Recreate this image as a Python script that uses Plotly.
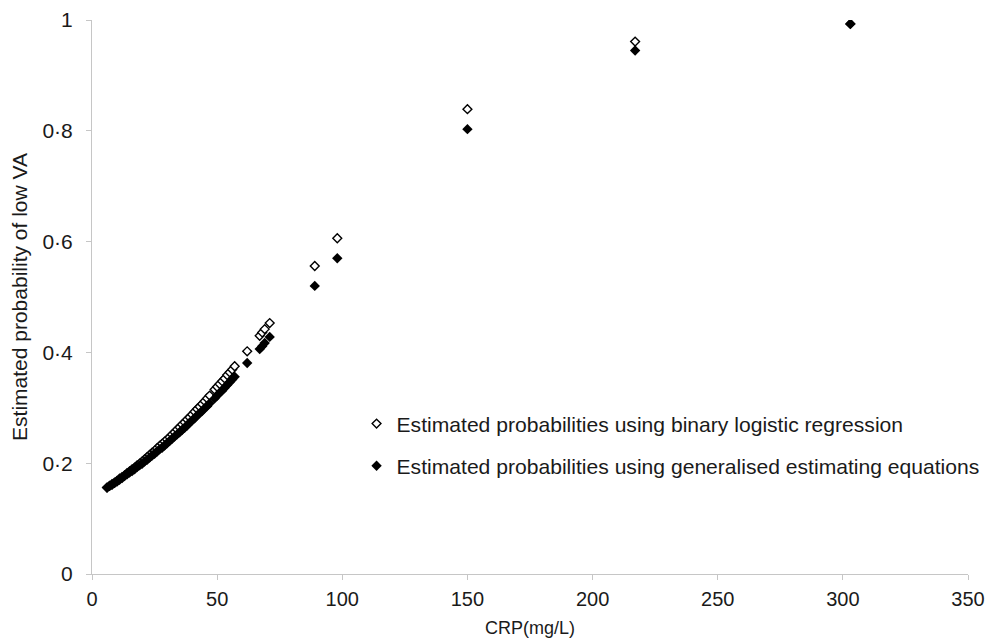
import plotly.graph_objects as go

# CRP values (mg/L)
crp = [6, 7, 8, 9, 10, 11, 12, 13, 14, 15, 16, 17, 18, 19, 20, 21, 22, 23, 24, 25,
       26, 27, 28, 29, 30, 31, 32, 33, 34, 35, 36, 37, 38, 39, 40, 41, 42, 43, 44, 45,
       46, 47, 49, 50, 51, 52, 53, 54, 55, 56, 57, 62, 67, 68, 69, 71, 89, 98, 150, 217, 303]

# Estimated probabilities, binary logistic regression (open diamonds)
p_logistic = [0.156, 0.159, 0.162, 0.165, 0.168, 0.172, 0.175, 0.178, 0.182, 0.185,
              0.189, 0.192, 0.196, 0.199, 0.203, 0.207, 0.211, 0.215, 0.219, 0.222,
              0.227, 0.231, 0.235, 0.239, 0.243, 0.247, 0.252, 0.256, 0.261, 0.265,
              0.270, 0.274, 0.279, 0.283, 0.288, 0.293, 0.298, 0.302, 0.307, 0.312,
              0.317, 0.322, 0.333, 0.338, 0.343, 0.348, 0.353, 0.359, 0.364, 0.369,
              0.375, 0.402, 0.430, 0.436, 0.442, 0.453, 0.556, 0.606, 0.839, 0.961, 0.993]

# Estimated probabilities, generalised estimating equations (filled diamonds)
p_gee = [0.156, 0.159, 0.161, 0.164, 0.167, 0.170, 0.173, 0.177, 0.180, 0.183,
         0.186, 0.189, 0.193, 0.196, 0.199, 0.203, 0.206, 0.210, 0.214, 0.217,
         0.221, 0.225, 0.228, 0.232, 0.236, 0.240, 0.244, 0.248, 0.252, 0.256,
         0.260, 0.264, 0.268, 0.273, 0.277, 0.281, 0.286, 0.290, 0.294, 0.299,
         0.303, 0.308, 0.317, 0.322, 0.327, 0.331, 0.336, 0.341, 0.346, 0.351,
         0.356, 0.381, 0.406, 0.411, 0.417, 0.428, 0.520, 0.570, 0.803, 0.945, 0.993]

y_tickvals = [0, 0.2, 0.4, 0.6, 0.8, 1]
y_ticktext = ["0", "0·2", "0·4", "0·6", "0·8", "1"]
x_tickvals = [0, 50, 100, 150, 200, 250, 300, 350]

name_logistic = "Estimated probabilities using binary logistic regression"
name_gee = "Estimated probabilities using generalised estimating equations"

FONT = "Liberation Sans, Arial, sans-serif"
TXT = "#1a1a1a"
AX = "#c6c6c6"

fig = go.Figure()
fig.add_trace(go.Scatter(
    x=crp, y=p_logistic, mode="markers", name=name_logistic, legend="legend",
    marker=dict(symbol="diamond", size=6.8, color="white", line=dict(width=1.4, color="black")),
))
fig.add_trace(go.Scatter(
    x=crp, y=p_gee, mode="markers", name=name_gee, legend="legend2",
    marker=dict(symbol="diamond", size=8, color="black", line=dict(width=0)),
))

fig.update_layout(
    width=987, height=635,
    margin=dict(l=84, r=27, t=12, b=69, autoexpand=False),
    paper_bgcolor="white", plot_bgcolor="white",
    font=dict(family=FONT, size=17, color=TXT),
    showlegend=True,
    legend=dict(x=0.302, y=0.271, xanchor="left", yanchor="middle",
                bgcolor="rgba(0,0,0,0)", borderwidth=0, font=dict(size=21.1, color=TXT)),
    legend2=dict(x=0.302, y=0.195, xanchor="left", yanchor="middle",
                 bgcolor="rgba(0,0,0,0)", borderwidth=0, font=dict(size=21.1, color=TXT)),
    xaxis=dict(range=[0, 350], tickvals=x_tickvals, showgrid=False, zeroline=False,
               showline=True, linecolor=AX, linewidth=1, ticks="outside", ticklen=5,
               tickcolor=AX, tickfont=dict(size=20, color=TXT), ticklabelstandoff=2,
               title=dict(text="CRP(mg/L)", font=dict(size=18, color=TXT), standoff=12)),
    yaxis=dict(range=[0, 1], tickvals=y_tickvals, ticktext=y_ticktext, showgrid=False,
               zeroline=False, showline=True, linecolor=AX, linewidth=1, ticks="outside",
               ticklen=5, tickcolor=AX, tickfont=dict(size=21, color=TXT),
               ticklabelstandoff=9,
               title=dict(text="Estimated probability of low VA", font=dict(size=21, color=TXT),
                          standoff=10)),
)

fig.write_html("out.html")
